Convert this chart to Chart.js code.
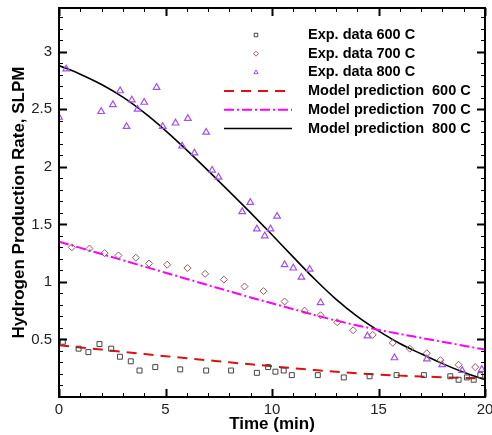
<!DOCTYPE html>
<html>
<head>
<meta charset="utf-8">
<script src="https://cdn.jsdelivr.net/npm/chart.js@4.4.1/dist/chart.umd.min.js"></script>
<style>
  html, body { margin: 0; padding: 0; background: #fff; }
  #wrap { width: 492px; height: 435px; }
</style>
</head>
<body>
<div id="wrap"><canvas id="chart" width="492" height="435"></canvas></div>
<script>
// Experimental data (time in min, rate in SLPM)
const exp600Time = [0.18, 0.92, 1.38, 1.9, 2.45, 2.86, 3.37, 3.78, 4.52, 5.69, 6.91, 8.08, 9.29, 9.82, 10.16, 10.55, 10.93, 12.15, 13.37, 14.58, 15.85, 17.13, 18.37, 18.76, 19.15, 19.47, 19.78];
const exp600Rate = [0.48, 0.42, 0.39, 0.46, 0.42, 0.35, 0.31, 0.23, 0.26, 0.24, 0.23, 0.23, 0.21, 0.26, 0.22, 0.23, 0.19, 0.19, 0.17, 0.18, 0.19, 0.19, 0.18, 0.15, 0.17, 0.15, 0.19];

const exp700Time = [0.6, 1.43, 2.14, 2.79, 3.61, 4.23, 5.08, 6.03, 6.86, 7.74, 8.71, 9.6, 10.59, 11.53, 12.28, 13.06, 13.81, 14.73, 15.67, 16.47, 17.27, 17.91, 18.76, 19.54];
const exp700Rate = [1.30, 1.29, 1.25, 1.23, 1.21, 1.16, 1.15, 1.12, 1.07, 1.02, 0.96, 0.92, 0.83, 0.75, 0.71, 0.65, 0.58, 0.54, 0.47, 0.42, 0.38, 0.32, 0.28, 0.26];

const exp800Time = [0.0, 0.34, 1.98, 2.53, 2.87, 3.17, 3.42, 3.69, 4.0, 4.58, 4.87, 5.47, 5.78, 6.05, 6.36, 6.91, 7.19, 7.49, 8.6, 8.98, 9.29, 9.66, 9.93, 10.24, 10.59, 11.0, 11.38, 11.77, 12.28, 14.48, 15.75, 17.27, 17.99, 18.93, 19.85];
const exp800Rate = [2.43, 2.85, 2.48, 2.54, 2.66, 2.35, 2.58, 2.50, 2.56, 2.69, 2.35, 2.38, 2.18, 2.42, 2.12, 2.30, 1.97, 1.91, 1.61, 1.69, 1.46, 1.40, 1.46, 1.57, 1.15, 1.12, 1.04, 1.11, 0.82, 0.53, 0.34, 0.33, 0.28, 0.23, 0.24];

// Model predictions
const modelTime = [0, 1, 2, 3, 4, 5, 6, 7, 8, 9, 10, 11, 12, 13, 14, 15, 16, 17, 18, 19, 20];
const model600 = [0.45, 0.431, 0.412, 0.393, 0.374, 0.355, 0.337, 0.319, 0.301, 0.284, 0.267, 0.25, 0.234, 0.219, 0.206, 0.195, 0.186, 0.178, 0.172, 0.166, 0.16];
const model700 = [1.35, 1.296, 1.242, 1.188, 1.134, 1.08, 1.026, 0.972, 0.918, 0.865, 0.814, 0.763, 0.713, 0.664, 0.622, 0.583, 0.548, 0.514, 0.48, 0.446, 0.412];
const model800 = [2.88, 2.805, 2.715, 2.605, 2.47, 2.315, 2.145, 1.967, 1.785, 1.6, 1.41, 1.215, 1.025, 0.85, 0.7, 0.575, 0.465, 0.375, 0.29, 0.215, 0.15];

const xTicks = [0, 5, 10, 15, 20];
const yTicks = [0.5, 1, 1.5, 2, 2.5, 3];

const legendLabels = ['Exp. data 600 C', 'Exp. data 700 C', 'Exp. data 800 C',
  'Model prediction  600 C', 'Model prediction  700 C', 'Model prediction  800 C'];

function pairs(xs, ys) {
  return xs.map((x, i) => ({ x: x, y: ys[i] }));
}

Chart.defaults.font.family = "'Liberation Sans', Arial, sans-serif";
Chart.defaults.color = '#222';

// frame + inward ticks on all four sides, and the legend
const framePlugin = {
  id: 'frame',
  afterDraw(chart) {
    const ctx = chart.ctx;
    const xs = chart.scales.x, ys = chart.scales.y;
    const a = chart.chartArea;
    ctx.save();
    ctx.strokeStyle = '#000';
    for (let v = 0; v <= 20; v += 1) {
      const px = Math.round(xs.getPixelForValue(v)) + 0.5;
      const len = v % 5 === 0 ? 8 : 4;
      ctx.lineWidth = v % 5 === 0 ? 2 : 1;
      ctx.beginPath();
      ctx.moveTo(px, a.bottom); ctx.lineTo(px, a.bottom - len);
      ctx.moveTo(px, a.top); ctx.lineTo(px, a.top + len);
      ctx.stroke();
    }
    for (let i = 1; i <= 33; i++) {
      const py = Math.round(ys.getPixelForValue(i / 10)) + 0.5;
      const major = i % 5 === 0;
      const len = major ? 8 : 4;
      ctx.lineWidth = major ? 2 : 1;
      ctx.beginPath();
      ctx.moveTo(a.left, py); ctx.lineTo(a.left + len, py);
      ctx.moveTo(a.right, py); ctx.lineTo(a.right - len, py);
      ctx.stroke();
    }
    ctx.lineWidth = 2;
    ctx.strokeRect(a.left, a.top, a.right - a.left, a.bottom - a.top);

    // legend
    const rowY0 = 35, rowStep = 18.7;
    const textX = 308, symX = 256, lineX0 = 224, lineX1 = 292;
    ctx.font = "bold 14.5px 'Liberation Sans', Arial, sans-serif";
    ctx.textBaseline = 'middle';
    chart.data.datasets.forEach((ds, i) => {
      const y = rowY0 + i * rowStep;
      ctx.fillStyle = '#000';
      ctx.fillText(legendLabels[i], textX, y);
      ctx.save();
      ctx.strokeStyle = ds.borderColor;
      if (ds.showLine) {
        ctx.lineWidth = ds.borderWidth;
        ctx.setLineDash(ds.borderDash || []);
        ctx.beginPath();
        ctx.moveTo(lineX0, y); ctx.lineTo(lineX1, y);
        ctx.stroke();
      } else {
        ctx.fillStyle = 'rgba(0,0,0,0)';
        ctx.lineWidth = 1;
        Chart.helpers.drawPoint(ctx, { pointStyle: ds.pointStyle, radius: 2.5, borderWidth: 1 }, symX, y);
      }
      ctx.restore();
    });
    ctx.restore();
  }
};

const ctx = document.getElementById('chart').getContext('2d');
new Chart(ctx, {
  type: 'scatter',
  data: {
    datasets: [
      { data: pairs(exp600Time, exp600Rate), pointStyle: 'rect', pointRadius: 3.5, borderColor: '#444', backgroundColor: 'rgba(0,0,0,0)', borderWidth: 1, showLine: false },
      { data: pairs(exp700Time, exp700Rate), pointStyle: 'rectRot', pointRadius: 3.5, borderColor: '#9a5858', backgroundColor: 'rgba(0,0,0,0)', borderWidth: 1, showLine: false },
      { data: pairs(exp800Time, exp800Rate), pointStyle: 'triangle', pointRadius: 3.8, borderColor: '#a050f0', backgroundColor: 'rgba(0,0,0,0)', borderWidth: 1.2, showLine: false },
      { data: pairs(modelTime, model600), showLine: true, pointRadius: 0, borderColor: '#dd1111', borderWidth: 2, borderDash: [10, 7], cubicInterpolationMode: 'monotone', fill: false },
      { data: pairs(modelTime, model700), showLine: true, pointRadius: 0, borderColor: '#ff00ff', borderWidth: 2, borderDash: [10, 3, 2, 3], cubicInterpolationMode: 'monotone', fill: false },
      { data: pairs(modelTime, model800), showLine: true, pointRadius: 0, borderColor: '#000', borderWidth: 1.6, cubicInterpolationMode: 'monotone', fill: false }
    ]
  },
  options: {
    responsive: false,
    animation: false,
    layout: { padding: { top: 8, right: 7, left: 0, bottom: 0 } },
    plugins: { legend: { display: false }, tooltip: { enabled: false } },
    scales: {
      x: {
        type: 'linear', min: 0, max: 20,
        afterBuildTicks: s => { s.ticks = xTicks.map(v => ({ value: v })); },
        afterFit: s => { s.height = 38; s.paddingLeft = 0; s.paddingRight = 0; },
        grid: { display: false, drawTicks: false },
        border: { display: false },
        ticks: { font: { size: 15 }, padding: 4, color: '#222', maxRotation: 0, callback: v => String(v) },
        title: { display: true, text: 'Time (min)', font: { size: 17, weight: 'bold' }, color: '#000', padding: { top: 0, bottom: 0 } }
      },
      y: {
        type: 'linear', min: 0, max: 3.38,
        afterBuildTicks: s => { s.ticks = yTicks.map(v => ({ value: v })); },
        afterFit: s => { s.width = 59; s.paddingTop = 0; s.paddingBottom = 0; },
        grid: { display: false, drawTicks: false },
        border: { display: false },
        ticks: { font: { size: 15 }, padding: 7, color: '#222', callback: v => String(v) },
        title: { display: true, text: 'Hydrogen Production Rate, SLPM', font: { size: 17, weight: 'bold' }, color: '#000', padding: { top: 9, bottom: 0 } }
      }
    }
  },
  plugins: [framePlugin]
});
</script>
</body>
</html>
